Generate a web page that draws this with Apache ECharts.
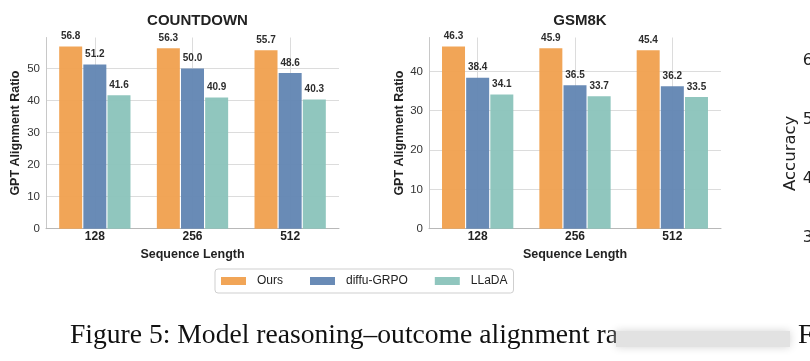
<!DOCTYPE html>
<html>
<head>
<meta charset="utf-8">
<script src="https://cdn.jsdelivr.net/npm/echarts@6/dist/echarts.min.js"></script>
<style>html,body{margin:0;padding:0;background:#fff}#c{width:810px;height:361px}</style>
</head>
<body>
<div id="c"></div>
<script>
const categories = ['128', '256', '512'];
const seriesNames = ['Ours', 'diffu-GRPO', 'LLaDA'];
const countdownOurs = [56.8, 56.3, 55.7];
const countdownGrpo = [51.2, 50.0, 48.6];
const countdownLlada = [41.6, 40.9, 40.3];
const gsmOurs = [46.3, 45.9, 45.4];
const gsmGrpo = [38.4, 36.5, 36.2];
const gsmLlada = [34.1, 33.7, 33.5];
const accuracyTicks = [30, 40, 50, 60];
const titles = ['COUNTDOWN', 'GSM8K'];
const captionText = 'Figure 5: Model reasoning\u2013outcome alignment ra';

const colors = ['#F0A04E', '#6185B2', '#8AC3BA'];
const sans = '"Liberation Sans", Arial, sans-serif';
const centerLines = ['a', 'b', 'c', 'd', 'e', 'f', 'g'];

const chart = echarts.init(document.getElementById('c'), null, {renderer: 'canvas'});

const grids = [
  {left: 46, top: 37.5, width: 293, height: 191.2},
  {left: 429, top: 37.5, width: 292, height: 191.2},
  {left: 831, top: 9.8, width: 200, height: 287}
];

const xAxes = [];
const yAxes = [];
const groups = [[countdownOurs, countdownGrpo, countdownLlada], [gsmOurs, gsmGrpo, gsmLlada]];

for (let g = 0; g < 2; g++) {
  xAxes.push({
    type: 'category', gridIndex: g, data: categories,
    name: 'Sequence Length', nameLocation: 'middle', nameGap: 17,
    nameTextStyle: {fontFamily: sans, fontWeight: 'bold', fontSize: 12.5, color: '#222'},
    axisLine: {show: true, lineStyle: {color: '#b8b8b8', width: 1}},
    axisTick: {show: false},
    axisLabel: {fontFamily: sans, fontWeight: 'bold', fontSize: 12, color: '#222', margin: 2},
    splitLine: {show: false}
  });
  yAxes.push({
    type: 'value', gridIndex: g, min: 0,
    max: Math.max(...groups[g][0]) * 1.05, interval: 10,
    name: 'GPT Alignment Ratio', nameLocation: 'middle', nameGap: g === 0 ? 24 : 19,
    nameTextStyle: {fontFamily: sans, fontWeight: 'bold', fontSize: 12.5, color: '#222'},
    axisLine: {show: true, lineStyle: {color: '#c8c8c8', width: 1}},
    axisTick: {show: false},
    axisLabel: {fontFamily: sans, fontSize: 11.5, color: '#333', margin: 6, showMaxLabel: false},
    splitLine: {show: true, showMaxLine: false, lineStyle: {color: '#dcdcdc', width: 1}}
  });
}
// hidden axes to draw vertical grid lines at category centers
for (let g = 0; g < 2; g++) {
  xAxes.push({
    type: 'category', gridIndex: g, data: centerLines, boundaryGap: false,
    axisLine: {show: false}, axisTick: {show: false}, axisLabel: {show: false},
    splitLine: {show: true, interval: (i) => i % 2 === 1, lineStyle: {color: '#dcdcdc', width: 1}}
  });
}
// partial third panel at right edge
xAxes.push({type: 'value', gridIndex: 2, show: false});
yAxes.push({
  type: 'value', gridIndex: 2, min: 20, max: 68.64, interval: 10,
  name: 'Accuracy', nameLocation: 'middle', nameGap: 32,
  nameTextStyle: {fontFamily: '"DejaVu Sans", sans-serif', fontSize: 16.5, color: '#222'},
  axisLine: {show: false}, axisTick: {show: false},
  axisLabel: {fontFamily: '"DejaVu Sans", sans-serif', fontSize: 16, color: '#222', margin: 8,
    formatter: (v) => accuracyTicks.includes(v) ? String(v) : ''},
  splitLine: {show: false}
});

const series = [];
for (let g = 0; g < 2; g++) {
  for (let s = 0; s < 3; s++) {
    series.push({
      type: 'bar', name: seriesNames[s], xAxisIndex: g, yAxisIndex: g,
      data: groups[g][s], barWidth: 23, barGap: '5%',
      itemStyle: {color: colors[s], opacity: 0.95},
      label: {show: true, position: 'top', distance: 5, fontFamily: sans, fontWeight: 'bold',
        fontSize: 10, color: '#222', formatter: (p) => p.value.toFixed(1)},
      z: 3
    });
  }
}

chart.setOption({
  animation: false,
  backgroundColor: '#fff',
  title: [
    {text: titles[0], left: 192.5, top: 8, textAlign: 'center',
      textStyle: {fontFamily: sans, fontWeight: 'bold', fontSize: 15, color: '#222'}},
    {text: titles[1], left: 575, top: 8, textAlign: 'center',
      textStyle: {fontFamily: sans, fontWeight: 'bold', fontSize: 15, color: '#222'}}
  ],
  legend: {
    data: seriesNames, left: 215, top: 269, orient: 'horizontal',
    icon: 'rect', itemWidth: 25, itemHeight: 8, itemGap: 27,
    padding: [6, 6, 6, 6], borderColor: '#cfcfcf', borderWidth: 1, borderRadius: 3,
    textStyle: {fontFamily: sans, fontSize: 12, color: '#222', padding: [0, 0, 0, 6]}
  },
  grid: grids,
  xAxis: xAxes,
  yAxis: yAxes,
  series: series,
  graphic: [
    {type: 'text', left: 70, top: 322,
      style: {text: captionText, font: '27.6px "Liberation Serif", "Times New Roman", serif', fill: '#111'}},
    {type: 'rect', shape: {x: 616, y: 331, width: 174, height: 16},
      style: {fill: '#e2e2e2', shadowBlur: 8, shadowColor: '#d4d4d4'}, z: 1},
    {type: 'text', left: 798, top: 322,
      style: {text: 'F', font: '27.6px "Liberation Serif", "Times New Roman", serif', fill: '#111'}}
  ]
});
</script>
</body>
</html>
